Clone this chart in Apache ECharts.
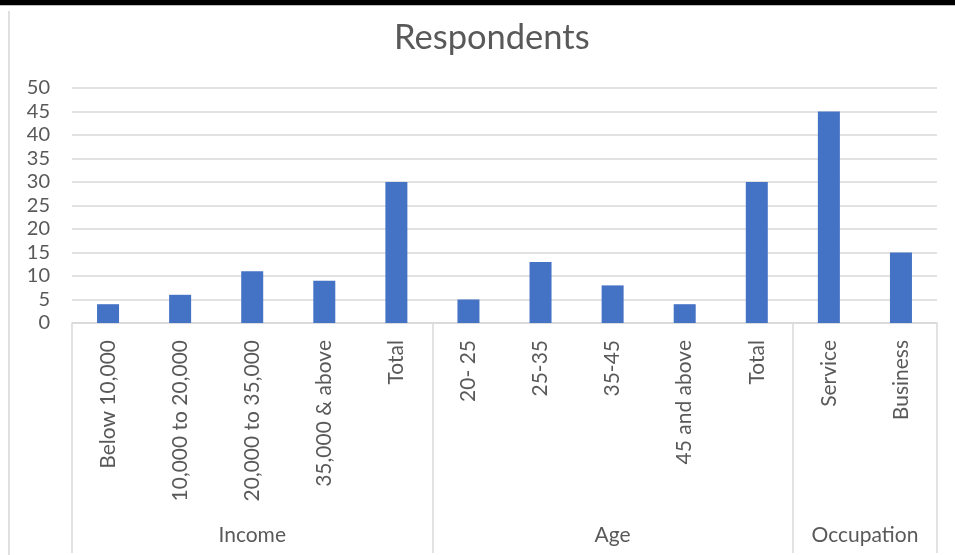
<!DOCTYPE html>
<html>
<head>
<meta charset="utf-8">
<script src="https://cdn.jsdelivr.net/npm/echarts@6/dist/echarts.min.js"></script>
<style>
  html, body { margin: 0; padding: 0; background: #fff; }
  #chart { width: 955px; height: 555px; }
</style>
</head>
<body>
<div id="chart"></div>
<script>
// Respondent counts by income, age and occupation
const categories = [
  'Below 10,000', '10,000 to 20,000', '20,000 to 35,000', '35,000 & above', 'Total',
  '20- 25', '25-35', '35-45', '45 and above', 'Total',
  'Service', 'Business'
];
const respondents = [4, 6, 11, 9, 30, 5, 13, 8, 4, 30, 45, 15];

// Outer category groups: name and number of inner categories
const groupNames = ['Income', 'Age', 'Occupation'];
const groupSizes = [5, 5, 2];

const yTicks = { min: 0, max: 50, interval: 5 };

// Group boundary positions and centres, in category-index units
const boundaries = [-0.5];
const centres = [];
groupSizes.forEach(function (n) {
  const start = boundaries[boundaries.length - 1];
  centres.push(start + n / 2);
  boundaries.push(start + n);
});

const FONT = 'Lato';
const TEXT = '#595959';
const GRID = '#d9d9d9';

const chart = echarts.init(document.getElementById('chart'), null, { renderer: 'canvas' });
chart.setOption({
  backgroundColor: '#ffffff',
  animation: false,
  title: {
    text: 'Respondents',
    left: 389,
    top: 15,
    textStyle: { fontFamily: FONT, fontSize: 34.5, fontWeight: 'normal', color: TEXT }
  },
  grid: { left: 72, right: 18, top: 88, bottom: 232, containLabel: false },
  xAxis: [
    {
      type: 'category',
      data: categories,
      boundaryGap: true,
      axisLine: { show: true, lineStyle: { color: GRID, width: 1.5 } },
      axisTick: { show: false },
      axisLabel: {
        rotate: 90,
        interval: 0,
        margin: 17,
        fontFamily: FONT,
        fontSize: 21,
        color: TEXT
      }
    },
    {
      type: 'value',
      position: 'bottom',
      min: boundaries[0],
      max: boundaries[boundaries.length - 1],
      axisLine: { show: false },
      splitLine: { show: false },
      axisTick: {
        show: true,
        customValues: boundaries,
        length: 230,
        lineStyle: { color: GRID, width: 1.5 }
      },
      axisLabel: {
        customValues: centres,
        margin: 202,
        fontFamily: FONT,
        fontSize: 21,
        color: TEXT,
        formatter: function (v) {
          const i = centres.findIndex(function (c) { return Math.abs(c - v) < 1e-6; });
          return i >= 0 ? groupNames[i] : '';
        }
      }
    }
  ],
  yAxis: {
    type: 'value',
    min: yTicks.min,
    max: yTicks.max,
    interval: yTicks.interval,
    axisLine: { show: false },
    axisTick: { show: false },
    splitLine: { lineStyle: { color: GRID, width: 1.5 } },
    axisLabel: { margin: 22, fontFamily: FONT, fontSize: 20, color: TEXT }
  },
  series: [{
    type: 'bar',
    name: 'Respondents',
    data: respondents,
    xAxisIndex: 0,
    barWidth: 22,
    itemStyle: { color: '#4472C4' }
  }],
  graphic: [
    { type: 'rect', shape: { x: 0, y: 0, width: 955, height: 5 }, style: { fill: '#000' }, z: 100 },
    { type: 'rect', shape: { x: 0, y: 5, width: 955, height: 1 }, style: { fill: '#bfbfbf' }, z: 100 },
    { type: 'rect', shape: { x: 8, y: 11, width: 2, height: 544 }, style: { fill: '#e0e0e0' }, z: 100 }
  ]
});
</script>
</body>
</html>
